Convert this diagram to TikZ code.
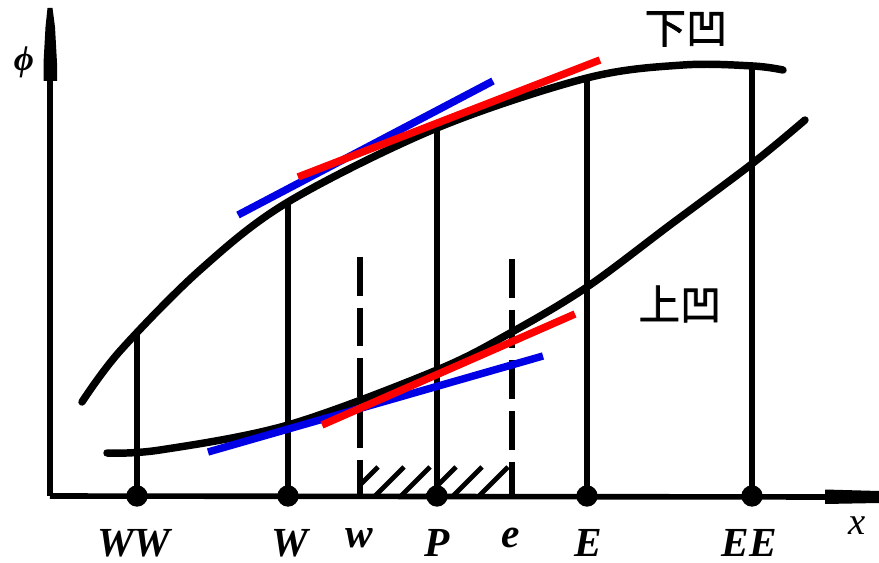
\documentclass[tikz,border=0pt]{standalone}
\usepackage{fontspec}
\usetikzlibrary{intersections}
\setmainfont{Liberation Serif}
\newfontfamily\cjk{Noto Sans CJK SC}[FakeBold=1.8]
\begin{document}
\begin{tikzpicture}[x=0.75pt,y=-0.75pt,
  curve/.style={line width=5.6pt,line cap=round,line join=round},
  vline/.style={line width=4.2pt},
  dline/.style={line width=4pt,dash pattern=on 29pt off 9pt},
  axisline/.style={line width=4.2pt},
  hatchline/.style={line width=3.6pt},
  tanred/.style={line width=5.6pt,draw={rgb,255:red,255;green,0;blue,0}},
  tanblue/.style={line width=5.6pt,draw={rgb,255:red,0;green,0;blue,230}},
  dotnode/.style={circle,fill=black,inner sep=0pt,minimum size=16pt},
  lab/.style={font=\fontsize{31}{31}\selectfont\bfseries\itshape,inner sep=0pt,anchor=base,text depth=0pt},
  cjklab/.style={font=\fontsize{31}{31}\selectfont\cjk,inner sep=0pt}]
\useasboundingbox (0,0) rectangle (879,563);
% axes
\coordinate (O) at (50,496);
\coordinate (ytop) at (50,80);
\coordinate (xend) at (826,497);
\draw[axisline] (O) -- (ytop);
\draw[axisline] (O) -- (xend);
\fill (43.5,81) -- (57,81) -- (57,63) -- (55,27) -- (52.5,8) -- (47.5,8) -- (45.5,27) -- (43.5,63) -- cycle;
\fill (825,489.5) -- (879,491) -- (879,503) -- (825,504) -- cycle;
% curves
\draw[curve,name path=upper] plot[smooth,tension=0.55] coordinates {(82,402) (120,351) (200,270) (288,202) (437,128) (587,78) (683,65) (753,66) (783,70)};
\draw[curve] plot[smooth,tension=0.55] coordinates {(107,453) (160,450) (288,425) (437,370) (512,332) (587,287) (670,225) (753,163) (805,120)};
% dots
\node[dotnode] (dWW) at (137,496) {};
\node[dotnode] (dW) at (288,496) {};
\node[dotnode] (dP) at (437,496) {};
\node[dotnode] (dE) at (587,496) {};
\node[dotnode] (dEE) at (752,496) {};
\coordinate (bw) at (360,496);
\coordinate (be) at (512,496);
\coordinate (tw) at (360,257);
\coordinate (te) at (512,259);
% curve tops via intersections
\foreach \n/\xx in {WW/137,W/288,P/437,E/587,EE/752}{
  \path[name path=v\n] (\xx,0) -- (\xx,496);
  \path[name intersections={of=upper and v\n,by=t\n}];
  \draw[vline] (d\n.center) -- (t\n);
}
\draw[dline] (tw) -- (bw);
\draw[dline] (te) -- (be);
% hatching
\begin{scope}
\clip (360,460) rectangle (512,496);
\foreach \t in {378,404,430,456,482,508} \draw[hatchline] (\t-29,496) -- (\t,467);
\end{scope}
% tangent lines
\draw[tanblue] (238,215) -- (493,81);
\draw[tanred] (298,177) -- (600,60);
\draw[tanblue] (208,452) -- (543,356);
\draw[tanred] (322,425) -- (575,314);
% labels
\node[lab] (lWW) at (134,556) {WW};
\node[lab] (lW) at (290,556) {W};
\node[lab] (lw) at (359,547) {w};
\node[lab] (lP) at (437,556) {P};
\node[lab] (le) at (511,547) {e};
\node[lab] (lE) at (588,556) {E};
\node[lab] (lEE) at (749,556) {EE};
\node[font=\fontsize{29}{29}\selectfont\itshape,inner sep=0pt] (lx) at (857,526) {x};
\node[font=\fontsize{26}{26}\selectfont\bfseries\itshape,inner sep=0pt] (lphi) at (24,62) {ϕ};
\node[cjklab] (lconcd) at (686,29) {下凹};
\node[cjklab] (lconcu) at (680,304) {上凹};
\end{tikzpicture}
\end{document}
